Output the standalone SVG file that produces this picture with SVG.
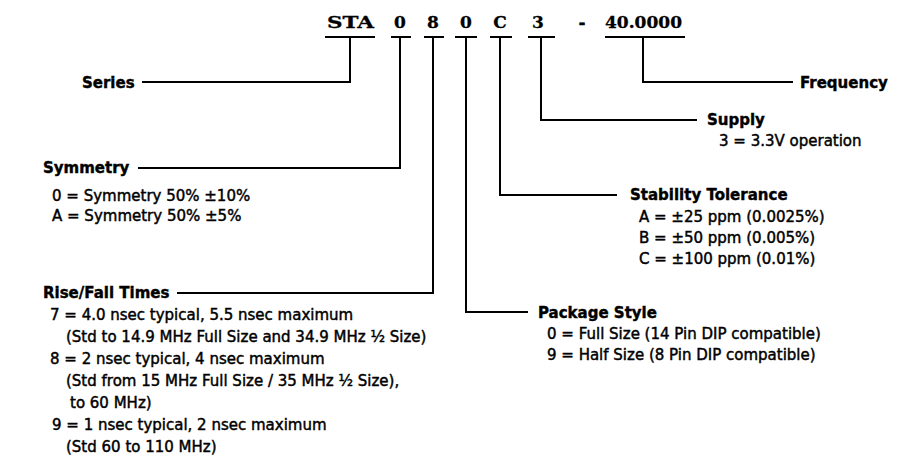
<svg xmlns="http://www.w3.org/2000/svg" width="901" height="471" viewBox="0 0 901 471">
<style>
.code{font-family:"DejaVu Serif","Liberation Serif",serif;font-weight:bold;font-size:17px;fill:#000;stroke:#000;stroke-width:0.3}
.hd{font-family:"DejaVu Sans","Liberation Sans",sans-serif;font-weight:bold;font-size:15px;fill:#000;stroke:#000;stroke-width:0.4}
.bd{font-family:"DejaVu Sans","Liberation Sans",sans-serif;font-size:15px;fill:#000;stroke:#000;stroke-width:0.45}
.ln{fill:none;stroke:#000;stroke-width:2}
</style>
<rect width="901" height="471" fill="#fff"/>
<g id="code">
<text class="code" x="327" y="28" textLength="47" lengthAdjust="spacingAndGlyphs">STA</text>
<text class="code" x="400" y="28" text-anchor="middle">0</text>
<text class="code" x="433" y="28" text-anchor="middle">8</text>
<text class="code" x="466" y="28" text-anchor="middle">0</text>
<text class="code" x="500" y="28" text-anchor="middle">C</text>
<text class="code" x="538" y="28" text-anchor="middle">3</text>
<text class="code" x="582" y="28" text-anchor="middle">-</text>
<text class="code" x="605" y="28" textLength="77" lengthAdjust="spacingAndGlyphs">40.0000</text>
</g>
<g id="connectors">
<path class="ln" d="M325 37H375M391 37H411M424 37H444M455 37H477M490 37H512M528 37H555M605 37H685"/>
<path class="ln" d="M350 37V82H142"/>
<path class="ln" d="M400 37V168H138"/>
<path class="ln" d="M433 37V293H177"/>
<path class="ln" d="M466 37V312H528"/>
<path class="ln" d="M500 37V195H617"/>
<path class="ln" d="M541 37V120H697"/>
<path class="ln" d="M643 37V82H793"/>
</g>
<g id="series">
<text class="hd" x="82" y="88">Series</text>
</g>
<g id="symmetry">
<text class="hd" x="43" y="173">Symmetry</text>
<text class="bd" x="52" y="201">0 = Symmetry 50% ±10%</text>
<text class="bd" x="52" y="221">A = Symmetry 50% ±5%</text>
</g>
<g id="risefall">
<text class="hd" x="43" y="298">Rise/Fall Times</text>
<text class="bd" x="50" y="320">7 = 4.0 nsec typical, 5.5 nsec maximum</text>
<text class="bd" x="66" y="342">(Std to 14.9 MHz Full Size and 34.9 MHz ½ Size)</text>
<text class="bd" x="50" y="364">8 = 2 nsec typical, 4 nsec maximum</text>
<text class="bd" x="66" y="386">(Std from 15 MHz Full Size / 35 MHz ½ Size),</text>
<text class="bd" x="70" y="408">to 60 MHz)</text>
<text class="bd" x="52" y="430">9 = 1 nsec typical, 2 nsec maximum</text>
<text class="bd" x="66" y="452">(Std 60 to 110 MHz)</text>
</g>
<g id="package">
<text class="hd" x="538" y="318">Package Style</text>
<text class="bd" x="547" y="339">0 = Full Size (14 Pin DIP compatible)</text>
<text class="bd" x="547" y="360">9 = Half Size (8 Pin DIP compatible)</text>
</g>
<g id="stability">
<text class="hd" x="630" y="200">Stability Tolerance</text>
<text class="bd" x="639" y="222">A = ±25 ppm (0.0025%)</text>
<text class="bd" x="639" y="243">B = ±50 ppm (0.005%)</text>
<text class="bd" x="639" y="264">C = ±100 ppm (0.01%)</text>
</g>
<g id="supply">
<text class="hd" x="707" y="125">Supply</text>
<text class="bd" x="719" y="146">3 = 3.3V operation</text>
</g>
<g id="frequency">
<text class="hd" x="800" y="88">Frequency</text>
</g>
</svg>
